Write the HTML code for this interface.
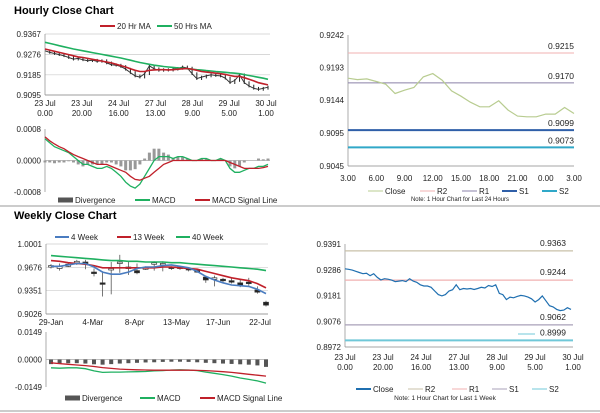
<!DOCTYPE html>
<html><head><meta charset="utf-8"><style>
html,body{margin:0;padding:0;background:#fff;}
svg{display:block;font-family:"Liberation Sans",sans-serif;}
</style></head><body>
<svg id="s" width="600" height="413" viewBox="0 0 600 413">
<text x="14" y="14" font-size="11" font-weight="bold">Hourly Close Chart</text>
<text x="14" y="219" font-size="11" font-weight="bold">Weekly Close Chart</text>
<line x1="0" y1="206" x2="600" y2="206" stroke="#999" stroke-width="1"/>
<line x1="0" y1="411" x2="600" y2="411" stroke="#999" stroke-width="1"/>
<g id="g"></g>
</svg>
<script>
// ---- Hourly close (left) ----
const hClose=[0.9292,0.9285,0.9280,0.9275,0.9270,0.9262,0.9255,0.9258,0.9252,0.9248,0.9250,0.9245,0.9248,0.9238,0.9230,0.9228,0.9222,0.9210,0.9195,0.9180,0.9175,0.9190,0.9225,0.9212,0.9205,0.9208,0.9206,0.9210,0.9214,0.9220,0.9215,0.9190,0.9168,0.9175,0.9180,0.9185,0.9182,0.9180,0.9170,0.9150,0.9160,0.9185,0.9150,0.9135,0.9125,0.9120,0.9125,0.9130];
const hMA20=[0.9300,0.9295,0.9290,0.9285,0.9280,0.9275,0.9270,0.9265,0.9262,0.9258,0.9254,0.9250,0.9246,0.9242,0.9238,0.9232,0.9226,0.9220,0.9212,0.9205,0.9200,0.9200,0.9205,0.9207,0.9208,0.9208,0.9207,0.9208,0.9210,0.9212,0.9213,0.9210,0.9205,0.9200,0.9197,0.9195,0.9192,0.9190,0.9187,0.9182,0.9178,0.9178,0.9172,0.9165,0.9158,0.9150,0.9145,0.9140];
const hMA50=[0.9330,0.9325,0.9320,0.9315,0.9310,0.9305,0.9300,0.9296,0.9292,0.9288,0.9284,0.9280,0.9276,0.9272,0.9268,0.9264,0.9260,0.9255,0.9250,0.9245,0.9240,0.9236,0.9232,0.9228,0.9225,0.9222,0.9220,0.9218,0.9216,0.9214,0.9212,0.9210,0.9208,0.9206,0.9204,0.9202,0.9200,0.9198,0.9196,0.9194,0.9192,0.9190,0.9186,0.9182,0.9178,0.9174,0.9170,0.9165];
const hTicks=[0.9367,0.9276,0.9185,0.9095];
const hXLabels=[["23 Jul","0.00"],["23 Jul","20.00"],["24 Jul","16.00"],["27 Jul","13.00"],["28 Jul","9.00"],["29 Jul","5.00"],["30 Jul","1.00"]];
const hMacd=[0.00055,0.00045,0.00035,0.0003,0.00025,0.0002,0.0001,0.0,-0.0001,-0.0001,-0.00015,-0.0002,-0.0002,-0.00015,-0.0002,-0.0003,-0.0004,-0.00055,-0.00065,-0.0007,-0.0006,-0.0004,-0.0002,0.0,0.0001,0.0001,0.0001,0.00005,0.0001,0.0001,0.00005,0.0,0.0,0.00005,0.00005,0.0,0.0,0.00005,0.0,-0.0002,-0.0003,-0.0003,-0.00025,-0.0002,-0.0002,-0.00015,-0.00015,-0.0001];
const hSignal=[0.0006,0.0005,0.00042,0.00035,0.0003,0.00022,0.00015,0.0001,0.00005,0.0,-0.00005,-0.0001,-0.0001,-0.0001,-0.00015,-0.0002,-0.00025,-0.0003,-0.0004,-0.00048,-0.0005,-0.00045,-0.0004,-0.0003,-0.0002,-0.0001,-0.00005,0.0,0.0,0.0,0.0,0.0,0.0,0.0,0.0,0.0,0.0,0.0,0.0,-0.00005,-0.0001,-0.00015,-0.0002,-0.0002,-0.0002,-0.0002,-0.00018,-0.00015];
const hMacdTicks=[0.0008,0.0,-0.0008];
// ---- 24h pivot (right top) ----
const pClose=[0.9177,0.9175,0.9176,0.9172,0.9168,0.9154,0.9159,0.9163,0.9179,0.9184,0.9174,0.9158,0.9150,0.9141,0.9134,0.9134,0.9143,0.9129,0.9120,0.9119,0.9119,0.9123,0.9123,0.9133,0.9124];
const pLevels=[0.9215,0.9170,0.9099,0.9073];
const pTicks=[0.9242,0.9193,0.9144,0.9095,0.9045];
const pXLabels=["3.00","6.00","9.00","12.00","15.00","18.00","21.00","0.00","3.00"];
// ---- Weekly candles (left bottom) ----
const wClose=[0.970,0.969,0.972,0.976,0.972,0.960,0.944,0.966,0.975,0.966,0.960,0.967,0.974,0.973,0.966,0.966,0.964,0.962,0.950,0.953,0.949,0.948,0.942,0.945,0.933,0.915];
const wOpen=[0.968,0.966,0.969,0.974,0.975,0.961,0.946,0.964,0.973,0.968,0.963,0.966,0.973,0.971,0.968,0.968,0.966,0.963,0.954,0.951,0.951,0.949,0.946,0.947,0.936,0.919];
const wHigh=[0.972,0.973,0.974,0.978,0.978,0.966,0.962,0.975,0.985,0.976,0.973,0.969,0.976,0.976,0.969,0.969,0.968,0.964,0.956,0.956,0.953,0.952,0.950,0.953,0.941,0.921];
const wLow=[0.966,0.963,0.968,0.971,0.965,0.955,0.927,0.930,0.960,0.957,0.958,0.964,0.963,0.962,0.964,0.964,0.962,0.960,0.946,0.941,0.946,0.945,0.940,0.942,0.931,0.913];
const w4=[0.969,0.969,0.971,0.973,0.973,0.968,0.961,0.958,0.958,0.961,0.966,0.968,0.968,0.970,0.971,0.969,0.967,0.962,0.955,0.950,0.946,0.943,0.942,0.941,0.937,0.931];
const w13=[0.977,0.976,0.974,0.973,0.972,0.970,0.967,0.967,0.967,0.967,0.967,0.967,0.967,0.968,0.968,0.967,0.966,0.965,0.962,0.959,0.956,0.953,0.951,0.949,0.945,0.939];
const w40=[0.984,0.983,0.982,0.981,0.980,0.979,0.978,0.977,0.977,0.976,0.976,0.975,0.975,0.975,0.974,0.974,0.973,0.972,0.971,0.970,0.969,0.968,0.967,0.966,0.965,0.963];
const wTicks=[1.0001,0.9676,0.9351,0.9026];
const wXLabels=["29-Jan","4-Mar","8-Apr","13-May","17-Jun","22-Jul"];
const wMacd=[-0.0045,-0.0047,-0.0045,-0.0045,-0.0050,-0.0062,-0.0070,-0.0068,-0.0068,-0.0067,-0.0066,-0.0065,-0.0062,-0.006,-0.0057,-0.0056,-0.0057,-0.006,-0.0068,-0.0075,-0.0082,-0.009,-0.0100,-0.0108,-0.0116,-0.0128];
const wSignal=[-0.0018,-0.0022,-0.0026,-0.003,-0.0033,-0.0038,-0.0044,-0.0048,-0.0052,-0.0054,-0.0056,-0.0057,-0.0058,-0.0058,-0.0058,-0.0058,-0.0058,-0.0059,-0.006,-0.0063,-0.0066,-0.007,-0.0075,-0.0080,-0.0085,-0.0090];
const wDiv=[-0.0025,-0.0022,-0.0020,-0.0020,-0.0022,-0.0026,-0.0028,-0.0025,-0.0022,-0.0020,-0.0018,-0.0016,-0.0015,-0.0013,-0.0012,-0.0012,-0.0013,-0.0015,-0.0018,-0.0020,-0.0022,-0.0024,-0.0026,-0.0028,-0.0032,-0.0040];
const wMacdTicks=[0.0149,0.0,-0.0149];
// ---- 1 week pivot (right bottom) ----
const qClose=[0.9290,0.9288,0.9285,0.9280,0.9275,0.9270,0.9272,0.9262,0.9270,0.9255,0.9245,0.9250,0.9248,0.9244,0.9238,0.9240,0.9242,0.9238,0.9250,0.9240,0.9235,0.9225,0.9220,0.9220,0.9215,0.9200,0.9185,0.9180,0.9185,0.9200,0.9205,0.9225,0.9205,0.9210,0.9208,0.9210,0.9206,0.9210,0.9215,0.9212,0.9222,0.9218,0.9225,0.9190,0.9185,0.9165,0.9175,0.9172,0.9178,0.9182,0.9180,0.9175,0.9168,0.9155,0.9165,0.9180,0.9160,0.9140,0.9135,0.9125,0.9120,0.9122,0.9132,0.9125];
const qLevels=[0.9363,0.9244,0.9062,0.8999];
const qTicks=[0.9391,0.9286,0.9181,0.9076,0.8972];
const qXLabels=[["23 Jul","0.00"],["23 Jul","20.00"],["24 Jul","16.00"],["27 Jul","13.00"],["28 Jul","9.00"],["29 Jul","5.00"],["30 Jul","1.00"]];

const NS="http://www.w3.org/2000/svg";
const G=document.getElementById('g');
function mk(tag,a,parent){const e=document.createElementNS(NS,tag);for(const k in a)e.setAttribute(k,a[k]);(parent||G).appendChild(e);return e;}
function lin(d0,d1,r0,r1){return v=>r0+(v-d0)/(d1-d0)*(r1-r0);}
function txt(x,y,s,anchor,size){const t=mk('text',{x:x,y:y,'font-size':size||8,'text-anchor':anchor||'middle',fill:'#222'});t.textContent=s;return t;}
function path(arr,xf,yf,color,w,name){let d='';arr.forEach((v,i)=>{d+=(i?'L':'M')+xf(i).toFixed(1)+','+yf(v).toFixed(1);});
 const p=mk('path',{d:d,fill:'none',stroke:color,'stroke-width':w});
 
 return p;}
function yAxis(x,ticks,yf,x2,grid,dec){ticks.forEach(t=>{const y=yf(t);
 if(grid){mk('line',{x1:x,y1:y,x2:x2,y2:y,stroke:'#ccc','stroke-width':0.7});}
 const l=txt(x-4,y+3,t.toFixed(dec),'end');
 
 });
 mk('line',{x1:x,y1:yf(ticks[0]),x2:x,y2:yf(ticks[ticks.length-1]),stroke:'#888','stroke-width':0.7});}
function legend(items,y){items.forEach(it=>{mk('line',{x1:it[0],y1:y,x2:it[0]+it[3],y2:y,stroke:it[2],'stroke-width':it[4]||2});
 const t=txt(it[0]+it[3]+2,y+3,it[1],'start');
 
 });}

// Hourly close left
{const x=lin(0,hClose.length-1,45,268),y=lin(0.9367,0.9095,34,95);
 yAxis(45,hTicks,y,270,true,4);
 mk('line',{x1:45,y1:95,x2:270,y2:95,stroke:'#888','stroke-width':0.7});
 hXLabels.forEach((l,i)=>{const xx=45+i*(221/6);txt(xx,106,l[0]);txt(xx,116,l[1]);});
 hClose.forEach((v,i)=>{if(i){const b=mk('line',{x1:x(i),y1:y(Math.max(v,hClose[i-1])+0.0006),x2:x(i),y2:y(Math.min(v,hClose[i-1])-0.0006),stroke:'#222','stroke-width':1});
  }});
 path(hClose,x,y,'#333',1,'hourly-close-line');
 path(hMA50,x,y,'#1fb060',1.6,'ma50-line');
 path(hMA20,x,y,'#c0202a',1.6,'ma20-line');
 legend([[100,'20 Hr MA','#c0202a',15],[157,'50 Hrs MA','#1fb060',15]],26);
 const ym=lin(0.0008,-0.0008,129,192);
 yAxis(45,hMacdTicks,ym,270,false,4);
 mk('line',{x1:45,y1:ym(0),x2:270,y2:ym(0),stroke:'#aaa','stroke-width':0.7});
 hMacd.forEach((v,i)=>{const d=v-hSignal[i];const b=mk('rect',{x:x(i)-1.5,y:Math.min(ym(d),ym(0)),width:3,height:Math.abs(ym(d)-ym(0)),fill:'#999'});
  });
 path(hMacd,x,ym,'#1fb060',1.3,'hourly-macd-line');
 path(hSignal,x,ym,'#c0202a',1.3,'hourly-signal-line');
 legend([[58,'Divergence','#555',15,5],[135,'MACD','#1fb060',15],[195,'MACD Signal Line','#c0202a',15]],200);}

// Pivot 24h right top
{const x=lin(0,pClose.length-1,348,574),y=lin(0.9242,0.9045,35,166);
 yAxis(348,pTicks,y,574,false,4);
 mk('line',{x1:348,y1:166,x2:574,y2:166,stroke:'#888','stroke-width':0.7});
 pXLabels.forEach((l,i)=>txt(348+i*(226/8),181,l));
 const cols=['#f0b0b0','#8a80a8','#2f5fa8','#30a8c8'],ws=[1,1,2,2],names=['r2-line','r1-line','s1-line','s2-line'];
 pLevels.forEach((v,i)=>{const l=mk('line',{x1:348,y1:y(v),x2:574,y2:y(v),stroke:cols[i],'stroke-width':ws[i]});
  
  txt(574,y(v)-4,v.toFixed(4),'end',8.5);});
 path(pClose,x,y,'#b8cc90',1.2,'pivot-close-line');
 legend([[368,'Close','#b8cc90',15,1],[420,'R2','#f0b0b0',15,1],[462,'R1','#8a80a8',15,1],[502,'S1','#2f5fa8',15],[542,'S2','#30a8c8',15]],191);
 txt(460,201,'Note: 1 Hour Chart for Last 24 Hours','middle',6);}

// Weekly left bottom
{const x=lin(0,wClose.length-1,51,266),y=lin(1.0001,0.9026,244,314);
 yAxis(46,wTicks,y,268,true,4);
 mk('line',{x1:46,y1:314,x2:268,y2:314,stroke:'#888','stroke-width':0.7});
 wXLabels.forEach((l,i)=>txt(51+i*(209/5),325,l));
 wClose.forEach((c,i)=>{mk('line',{x1:x(i),y1:y(wHigh[i]),x2:x(i),y2:y(wLow[i]),stroke:'#555','stroke-width':0.8});
  const o=wOpen[i];const r=mk('rect',{x:x(i)-2.5,y:y(Math.max(o,c)),width:5,height:Math.max(1.5,Math.abs(y(o)-y(c))),fill:c<o?'#222':'#fff',stroke:'#333','stroke-width':0.7});
  });
 path(w40,x,y,'#1fb060',1.6,'ma40-line');
 path(w13,x,y,'#c0202a',1.6,'ma13-line');
 path(w4,x,y,'#4a7cc0',1.6,'ma4-line');
 legend([[55,'4 Week','#4a7cc0',14],[117,'13 Week','#c0202a',14],[176,'40 Week','#1fb060',14]],237);
 const ym=lin(0.0149,-0.0149,332,387);
 yAxis(46,wMacdTicks,ym,268,false,4);
 mk('line',{x1:46,y1:ym(0),x2:268,y2:ym(0),stroke:'#aaa','stroke-width':0.7});
 wDiv.forEach((d,i)=>{const b=mk('rect',{x:x(i)-2,y:ym(0),width:4,height:ym(d)-ym(0),fill:'#555'});
  });
 path(wMacd,x,ym,'#1fb060',1.3,'weekly-macd-line');
 path(wSignal,x,ym,'#c0202a',1.3,'weekly-signal-line');
 legend([[65,'Divergence','#555',15,5],[140,'MACD','#1fb060',15],[200,'MACD Signal Line','#c0202a',15]],398);}

// 1 week pivot right bottom
{const x=lin(0,qClose.length-1,345,571),y=lin(0.9391,0.8972,244,347);
 yAxis(345,qTicks,y,573,false,4);
 mk('line',{x1:345,y1:347,x2:573,y2:347,stroke:'#888','stroke-width':0.7});
 qXLabels.forEach((l,i)=>{const xx=345+i*(228/6);txt(xx,360,l[0]);txt(xx,370,l[1]);});
 const cols=['#c8c0a8','#f0b0b0','#a8a0b8','#70c8d8'],names=['r2-line','r1-line','s1-line','s2-line'];
 qLevels.forEach((v,i)=>{const l=mk('line',{x1:345,y1:y(v),x2:573,y2:y(v),stroke:cols[i],'stroke-width':i==3?2:1.2});
  
  txt(566,y(v)-5,v.toFixed(4),'end',8.5);});
 mk('line',{x1:518,y1:334,x2:535,y2:334,stroke:'#70c8d8','stroke-width':1});
 path(qClose,x,y,'#1f6fb0',1.2,'week-close-line');
 legend([[356,'Close','#1f6fb0',15],[408,'R2','#c8c0a8',15,1],[452,'R1','#f0b0b0',15,1],[492,'S1','#a8a0b8',15,1],[532,'S2','#70c8d8',15,1]],389);
 txt(445,400,'Note: 1 Hour Chart for Last 1 Week','middle',6.5);}
</script>
</body></html>
